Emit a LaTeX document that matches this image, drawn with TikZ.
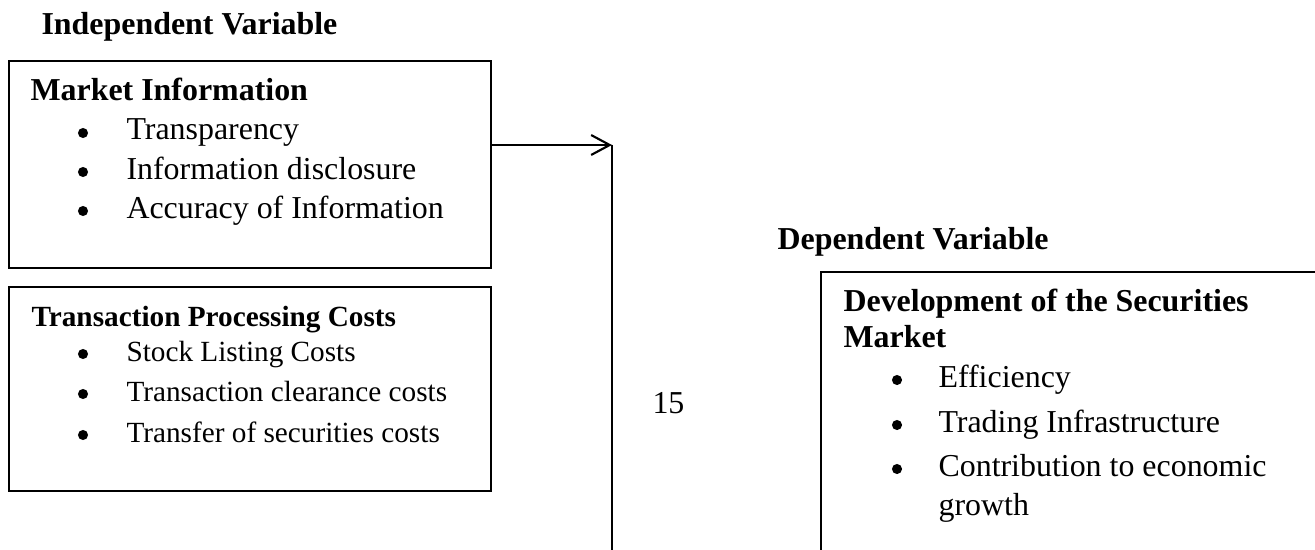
\documentclass[tikz,border=0pt]{standalone}
\usepackage{fontspec}
\setmainfont{Liberation Serif}
\usetikzlibrary{arrows.meta}
\newdimen\px \px=0.376pt
\begin{document}
\begin{tikzpicture}[x=0.376pt, y={(0pt,-0.376pt)},
  box/.style={draw, line width=0.8pt, inner sep=0pt, outer sep=0pt, anchor=north west},
  txt/.style={anchor=base west, inner sep=0pt, font=\fontsize{12}{14}\selectfont},
  hd/.style={txt, font=\fontsize{12}{14}\selectfont\bfseries},
  sm/.style={txt, font=\fontsize{11}{13}\selectfont},
  smhd/.style={txt, font=\fontsize{11}{13}\selectfont\bfseries},
  dot/.style={fill=black},
  line/.style={line width=0.8pt},
  link/.style={line, -{Straight Barb[length=7pt,width=7.5pt]}}]
\useasboundingbox (0,0) rectangle (1315,550);
\clip (0,0) rectangle (1315,550);
% headings
\node[hd] (indep) at (41,35) {Independent Variable};
\node[hd] (dep) at (777,249) {Dependent Variable};
% box 1
\node[box, minimum width=482\px, minimum height=207\px] (mi) at (9,61) {};
\node[hd] (mit) at (30,101) {Market Information};
\node[txt] (mi1) at (126,140) {Transparency};
\node[txt] (mi2) at (126,179) {Information disclosure};
\node[txt] (mi3) at (126,218) {Accuracy of Information};
% box 2
\node[box, minimum width=482\px, minimum height=204\px] (tp) at (9,287) {};
\node[smhd] (tpt) at (31,326) {Transaction Processing Costs};
\node[sm] (tp1) at (126,361) {Stock Listing Costs};
\node[sm] (tp2) at (126,401) {Transaction clearance costs};
\node[sm] (tp3) at (126,442) {Transfer of securities costs};
% right box
\node[box, minimum width=600\px, minimum height=400\px] (dv) at (821,272) {};
\node[hd] (dvt1) at (843,311) {Development of the Securities};
\node[hd] (dvt2) at (843,347) {Market};
\node[txt] (dv1) at (938,387) {Efficiency};
\node[txt] (dv2) at (938,432) {Trading Infrastructure};
\node[txt] (dv3) at (938,476) {Contribution to economic};
\node[txt] (dv4) at (938,515) {growth};
% bullets
\foreach \n in {mi1,mi2,mi3,tp1,tp2,tp3}
  \fill[dot] ([shift={(-43,-7)}]\n.base west) circle[radius=1.9pt];
\foreach \n in {dv1,dv2,dv3}
  \fill[dot] ([shift={(-41,-7)}]\n.base west) circle[radius=1.9pt];
% page number
\node[txt] (pg) at (652,413) {15};
% connector
\coordinate (j) at (612,145);
\coordinate (jb) at (612,555);
\draw[link] (mi.east |- j) -- (j);
\draw[line] (j) -- (jb);
\end{tikzpicture}
\end{document}
